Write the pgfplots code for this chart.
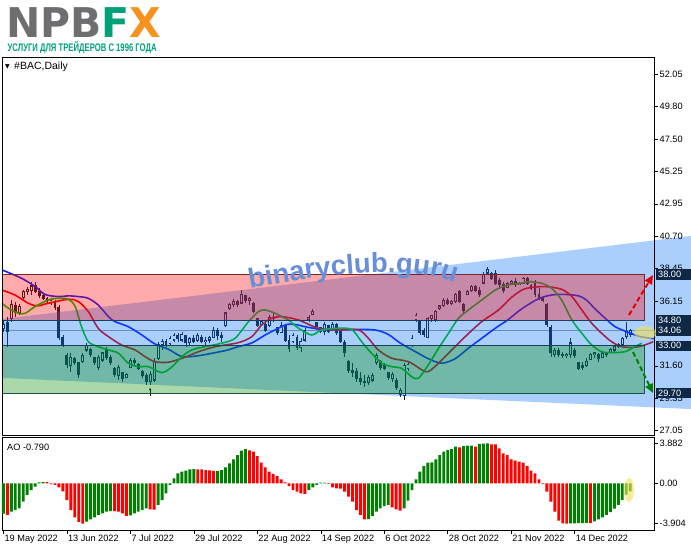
\documentclass[border=0pt]{standalone}
\usepackage{pgfplots}
\pgfplotsset{compat=1.18}
\usepackage{pgfplotstable}
\usepackage{graphicx}
\usepackage{fontspec}
\setmainfont{Liberation Sans}
\newfontfamily\dejavu{DejaVu Sans}
\usetikzlibrary{arrows.meta,decorations.text}

\definecolor{cndl}{RGB}{22,30,44}
\definecolor{jaw}{RGB}{20,30,255}
\definecolor{teeth}{RGB}{235,0,0}
\definecolor{lips}{RGB}{0,200,0}
\definecolor{zred}{RGB}{255,0,0}
\definecolor{zgreen}{RGB}{0,138,0}
\definecolor{ztri}{RGB}{0,111,246}
\definecolor{lnred}{RGB}{125,35,40}
\definecolor{lnblue}{RGB}{28,60,92}
\definecolor{lngreen}{RGB}{28,85,65}
\definecolor{navy}{RGB}{14,40,70}
\definecolor{aogreen}{RGB}{0,128,0}
\definecolor{aored}{RGB}{255,0,0}
\definecolor{npgray}{RGB}{110,110,112}
\definecolor{npgreen}{RGB}{0,160,120}
\definecolor{nporange}{RGB}{246,146,30}
\definecolor{wm}{RGB}{104,142,216}
\definecolor{hilite}{RGB}{240,225,90}

\newcommand\tickfont{\fontsize{9.2}{10}\selectfont}

% daily candles, bar index from 19 May 2022
\pgfplotstableread{
i o h l c
0 34.2 34.8 34.0 34.5
2 34.9 36.2 34.7 35.9
4 35.3 35.9 35.16 35.75
5 36.4 36.9 36.3 36.8
6 36.8 37.15 36.56 36.95
7 36.9 37.5 36.56 37.2
12 36.05 36.33 35.86 36.2
17 31.6 32.48 31.19 32.2
20 31.9 32.48 31.78 32.3
21 32.7 33.18 32.59 33.0
24 31.5 32.36 31.31 32.2
25 32.0 32.59 31.89 32.5
29 30.9 31.66 30.61 31.5
31 30.8 31.07 30.72 31.0
32 31.5 32.13 31.42 32.0
37 30.5 31.2 30.25 31.0
38 30.6 32.13 30.49 31.9
39 32.1 33.3 32.0 33.1
40 33.1 33.5 32.7 33.3
42 33.15 33.7 33.06 33.5
43 33.4 33.88 33.29 33.7
45 33.4 34.0 33.29 33.8
47 33.2 33.64 33.06 33.5
49 33.35 33.88 33.29 33.7
51 33.3 33.64 33.06 33.4
52 33.4 33.69 33.18 33.6
53 33.6 34.3 33.53 34.1
56 34.4 35.4 34.34 35.3
57 35.6 35.98 35.5 35.9
58 35.9 36.3 35.75 36.1
60 36.0 36.91 35.98 36.6
62 36.2 36.45 35.86 36.3
65 34.5 34.81 34.46 34.7
67 34.4 35.16 34.34 35.0
70 33.9 34.7 33.88 34.4
73 33.3 33.88 33.18 33.7
75 32.9 33.53 32.59 33.3
76 33.4 34.23 33.29 34.1
77 34.8 35.16 34.7 35.0
78 35.2 35.6 35.16 35.4
81 34.0 34.7 33.76 34.5
83 34.2 34.7 34.11 34.5
92 30.4 30.96 30.26 30.8
93 30.6 31.07 30.49 30.95
94 31.8 32.48 31.66 32.3
98 30.7 31.19 30.49 31.0
100 29.6 30.02 29.44 29.9
101 29.5 31.78 29.21 31.6
102 31.4 31.9 31.2 31.7
103 33.0 33.76 32.94 33.5
104 34.8 35.28 34.7 35.1
107 33.6 35.04 33.53 34.9
108 34.9 35.16 34.7 35.1
109 34.8 35.51 34.7 35.4
110 35.6 35.86 35.51 35.8
111 35.8 36.33 35.75 36.2
113 35.95 36.21 35.86 36.1
114 36.1 36.68 35.98 36.6
117 36.6 36.91 36.56 36.8
118 36.85 37.27 36.8 37.15
121 37.4 38.2 37.38 38.0
122 38.1 38.55 38.08 38.35
127 37.1 37.5 37.03 37.35
128 37.35 37.61 37.27 37.5
130 37.3 37.5 37.27 37.4
131 37.4 37.85 37.38 37.7
139 32.4 32.83 32.24 32.7
142 32.3 32.48 32.13 32.4
143 32.4 33.53 32.13 33.2
147 31.6 32.13 31.54 31.9
148 32.05 32.48 32.01 32.4
149 32.4 32.59 32.13 32.5
151 32.2 32.59 32.13 32.5
153 32.5 32.83 32.48 32.75
154 32.7 33.06 32.59 32.95
155 32.95 33.18 32.83 33.1
156 33.1 33.64 33.06 33.5
157 33.65 34.69 33.5 33.95
158 33.8 34.15 33.6 34.06
}\bull

\pgfplotstableread{
i o h l c
1 34.6 35.0 32.95 34.0
3 35.8 36.1 35.0 35.3
8 37.2 37.5 36.68 36.8
9 36.8 37.03 36.35 36.5
10 36.5 36.68 36.21 36.3
11 36.3 36.45 35.98 36.1
13 36.1 36.2 35.5 35.7
14 35.7 35.86 33.41 33.55
15 33.6 33.76 32.94 33.1
16 32.3 32.48 31.42 31.7
18 32.1 32.24 31.66 31.8
19 31.8 31.89 30.72 31.0
22 32.75 32.83 32.24 32.4
23 32.2 32.24 31.66 31.8
26 32.7 32.94 32.01 32.2
27 32.2 32.36 31.66 31.8
28 31.4 31.54 30.84 31.0
30 31.1 31.19 30.49 30.7
33 32.0 32.13 31.66 31.8
34 31.7 31.78 31.31 31.4
35 31.2 31.31 30.72 30.9
36 30.95 31.07 30.26 30.5
41 33.3 33.45 32.94 33.1
44 33.7 33.9 33.29 33.5
46 33.7 33.76 32.94 33.2
48 33.5 33.76 33.18 33.3
50 33.6 33.76 33.18 33.3
54 34.1 34.23 33.41 33.7
55 33.7 34.0 33.29 33.6
59 36.1 36.21 35.75 35.9
61 36.5 36.56 35.98 36.2
63 36.0 36.1 35.28 35.4
64 34.9 34.93 34.34 34.45
66 34.5 34.58 34.0 34.1
68 35.0 35.28 34.7 34.9
69 34.3 34.34 33.76 33.9
71 34.4 34.46 33.29 33.4
72 33.4 33.76 32.59 32.8
74 33.6 33.76 32.71 32.9
79 34.6 34.7 34.11 34.3
80 34.3 34.34 33.88 34.0
82 34.4 34.46 33.88 34.0
84 34.5 34.58 33.76 33.9
85 34.0 34.11 33.18 33.3
86 33.2 33.41 32.24 32.5
87 31.9 32.01 31.07 31.3
88 31.3 31.78 30.84 31.1
89 31.2 31.42 30.49 30.7
90 30.7 31.19 30.26 30.5
91 30.5 30.96 30.14 30.4
95 31.9 32.01 31.31 31.5
96 31.7 31.78 31.31 31.4
97 31.1 31.19 30.61 30.8
99 30.6 30.72 29.91 30.1
105 34.7 34.81 33.76 33.9
106 34.1 34.23 33.64 33.8
112 36.2 36.33 35.86 35.95
115 36.8 36.91 35.98 36.1
116 35.9 35.98 35.28 35.5
119 37.15 37.27 36.8 36.9
120 36.9 37.15 36.45 36.6
123 38.1 38.2 37.61 37.75
124 38.1 38.32 37.27 37.4
125 37.6 37.73 37.15 37.3
126 37.3 37.5 36.68 36.9
129 37.5 37.73 37.15 37.3
132 37.7 37.85 37.26 37.4
133 37.26 37.3 36.9 37.0
134 37.4 37.61 36.45 36.6
135 36.6 37.03 36.21 36.3
136 36.3 36.45 36.1 36.2
137 35.9 35.98 34.34 34.5
138 34.3 34.46 32.24 32.5
140 32.7 32.83 32.24 32.4
141 32.4 32.59 32.13 32.3
144 32.7 32.83 32.13 32.3
145 31.8 31.89 31.31 31.4
146 31.6 31.89 31.31 31.5
150 32.4 32.48 31.89 32.1
152 32.5 32.59 32.24 32.4
}\bear

% Awesome Oscillator, rising bars and falling bars
\pgfplotstableread{
i v
0 -2.95
2 -2.75
3 -2.59
4 -2.43
5 -1.78
6 -1.13
7 -0.65
8 -0.32
9 0.10
10 0.12
21 -3.72
22 -3.50
23 -3.30
24 -3.07
25 -2.91
26 -2.75
27 -2.69
32 -3.10
33 -2.91
34 -2.75
35 -2.59
36 -2.43
39 -2.10
40 -1.62
41 -0.97
42 -0.16
43 0.49
44 0.97
45 1.13
46 1.23
47 1.36
48 1.38
54 1.22
55 1.29
56 1.55
57 1.94
58 2.33
59 2.75
60 3.17
61 3.33
77 -0.65
78 -0.39
79 -0.16
80 0.06
81 0.08
92 -3.48
93 -3.17
94 -2.75
95 -2.43
96 -2.20
97 -2.10
101 -2.43
102 -1.68
103 -0.65
104 0.39
105 1.13
106 1.68
107 2.00
108 2.04
109 2.33
110 2.75
111 3.07
112 3.24
113 3.33
114 3.56
116 3.62
117 3.66
118 3.67
120 3.82
121 3.86
122 3.882
143 -3.89
144 -3.885
145 -3.87
146 -3.86
147 -3.85
149 -3.70
150 -3.50
151 -3.30
152 -3.05
153 -2.80
154 -2.45
155 -2.10
156 -1.60
157 -1.10
158 -0.79
}\aoup

\pgfplotstableread{
i v
1 -3.05
11 0.11
12 -0.08
13 -0.15
14 -0.39
15 -0.78
16 -1.62
17 -2.59
18 -3.30
19 -3.75
20 -3.90
28 -2.70
29 -2.75
30 -2.91
31 -3.17
37 -2.52
38 -2.55
49 1.36
50 1.35
51 1.29
52 1.27
53 1.20
62 3.20
63 3.07
64 2.65
65 2.00
66 1.55
67 1.13
68 0.91
69 0.71
70 0.39
71 0.10
72 -0.26
73 -0.65
74 -0.81
75 -0.97
76 -1.03
82 -0.06
83 -0.39
84 -0.49
85 -0.52
86 -0.81
87 -1.29
88 -1.78
89 -2.59
90 -3.07
91 -3.50
98 -2.33
99 -2.52
100 -2.65
115 3.50
119 3.56
123 3.79
124 3.78
125 3.40
126 2.91
127 2.75
128 2.33
129 2.20
130 2.10
131 2.00
132 1.68
133 1.23
134 0.97
135 0.39
136 -0.06
137 -0.81
138 -1.78
139 -2.75
140 -3.62
141 -3.88
142 -3.904
148 -3.87
}\aodown

\pgfplotsset{
  wick/.style={draw=none, mark=none, forget plot,
    error bars/.cd, y dir=plus, y explicit, error mark=none,
    error bar style={draw=cndl, line width=0.7pt}},
  body/.style={draw=none, mark=none, forget plot,
    error bars/.cd, y dir=plus, y explicit, error mark=none,
    error bar style={draw=#1, line width=2.9pt}},
}

\begin{document}
\begin{tikzpicture}[x=1pt,y=1pt]
\fill[white] (0,0) rectangle (691,549);
\useasboundingbox (0,0) rectangle (691,549);

% logo
\node[anchor=base west, inner sep=0pt] at (6,511)
  {\smash{\dejavu\bfseries\fontsize{41}{41}\selectfont
   \textcolor{npgray}{NPB}\textcolor{npgreen}{F}\textcolor{nporange}{X}}};
\node[anchor=base west, inner sep=0pt] at (7.5,497.5)
  {\scalebox{0.70}[1]{\fontsize{11}{12}\selectfont\bfseries\color{npgreen}УСЛУГИ ДЛЯ ТРЕЙДЕРОВ С 1996 ГОДА}};

\begin{axis}[
  at={(2pt,114pt)}, anchor=south west, scale only axis,
  width=652pt, height=378pt,
  xmin=-0.35, xmax=164, ymin=26.75, ymax=53.24,
  clip=false, axis on top,
  xtick=\empty,
  ytick={52.05,49.80,47.50,45.25,42.95,40.70,38.45,36.15,33.90,31.60,29.35,27.05},
  yticklabels={52.05,49.80,47.50,45.25,42.95,40.70,38.45,36.15,,31.60,29.35,27.05},
  ytick pos=right, yticklabel pos=right,
  tick align=outside, major tick length=4pt,
  tick style={black, line width=0.5pt},
  axis line style={black, line width=0.8pt},
  yticklabel style={font=\tickfont, inner sep=1.5pt, anchor=west},
]
% bid line
\addplot[black!38, line width=0.5pt] coordinates {(-0.35,34.06) (164,34.06)};

% candles
\addplot[wick] table[x=i, y=l, y error expr={\thisrow{h}-\thisrow{l}}] {\bear};
\addplot[wick] table[x=i, y=l, y error expr={\thisrow{h}-\thisrow{l}}] {\bull};
\addplot[body=cndl] table[x=i, y expr={\thisrow{c}-0.035}, y error expr={\thisrow{o}-\thisrow{c}+0.07}] {\bear};
\addplot[body=cndl] table[x=i, y expr={\thisrow{o}-0.035}, y error expr={\thisrow{c}-\thisrow{o}+0.07}] {\bull};
\addplot[draw=none, mark=none, forget plot,
  error bars/.cd, y dir=plus, y explicit, error mark=none,
  error bar style={draw=white, line width=1.2pt}]
  table[x=i, y expr={\thisrow{o}+0.045}, y error expr={max(\thisrow{c}-\thisrow{o}-0.09,0)}] {\bull};

% alligator
\addplot[jaw, line width=1.6pt, smooth] coordinates {
(-0.35,38.32) (4.6,37.73) (8,37.15) (10.5,36.6) (13.9,36.45) (16.4,36.5) (18.9,36.45)
(21.4,36.33) (23.9,35.86) (26.5,35.04) (28.1,34.70) (31.5,34.34) (34.9,33.76) (38.2,33.13)
(41.6,32.76) (45,32.25) (49,32.3) (53,32.5) (56.5,32.7) (59.2,32.94) (62.6,33.2) (66,33.76)
(69.3,34.23) (71.4,34.5) (73.5,34.5) (76,34.34) (79.4,34.18) (82.8,34.11) (87.8,34.15)
(93.7,34.11) (97,33.8) (100,33.2) (103.8,32.6) (107.1,32.1) (110.5,31.78) (113.9,32.1)
(117.2,32.83) (120.6,33.53) (124,34.23) (127.3,34.85) (130.7,35.6) (134.9,36.3) (138.2,36.56)
(141.6,36.6) (145,36.5) (147,36.2) (149.1,35.6) (151.7,34.93) (154.2,34.34) (157.5,33.95)
(160.5,33.64) (164,33.5)};
\addplot[teeth, line width=1.6pt, smooth] coordinates {
(-0.35,36.91) (2.9,36.56) (6.3,35.98) (8.5,35.8) (11.3,35.98) (16.4,36.26) (18.9,36.1)
(21.4,35.4) (23.9,34.23) (26.5,33.64) (29.8,33.06) (33.2,32.71) (35.7,32.24) (38.2,31.89)
(41.6,31.85) (45.8,32.2) (49.2,32.59) (53.4,32.94) (59.2,33.22) (62.6,33.64) (65.1,34.46)
(67.6,34.93) (70.2,35.04) (74.4,34.81) (79.4,34.23) (84.4,34.11) (89.5,34.11) (92,33.53)
(94.5,32.71) (97.9,32.13) (102.1,31.89) (105.5,31.31) (107.1,31.19) (109.7,31.78) (113,32.71)
(116.4,33.64) (120.6,34.7) (124.8,35.51) (128.1,36.4) (131.5,37.0) (136.5,37.15) (140.7,36.96)
(143.3,36.45) (145.8,35.51) (148.3,34.58) (150.8,33.88) (153.3,33.29) (155.9,32.94)
(159.2,32.9) (161.7,33.06) (163.8,33.29)};
\addplot[lips, line width=1.6pt, smooth] coordinates {
(-0.35,35.98) (1.3,35.63) (3.8,35.28) (5.5,35.28) (8,35.75) (11.3,36.21) (13.9,36.33)
(16.4,36.26) (18.1,35.75) (19.7,34.34) (21.4,33.29) (23.9,32.94) (26.5,32.71) (29,32.48)
(31.5,31.78) (34,31.54) (36.6,31.54) (39.9,31.12) (42.4,31.5) (45,32.24) (47.5,32.71)
(50.8,32.94) (55,33.18) (58.4,33.53) (61.8,34.7) (64.3,35.4) (66,35.51) (68.5,35.28)
(71.8,34.81) (74.4,34.23) (77.7,33.76) (80.2,34.11) (84.4,34.23) (87.8,34.14) (90.3,33.29)
(92.8,32.48) (95.4,31.78) (97.9,31.54) (100.4,31.42) (102.9,30.84) (104.6,30.72) (107.1,31.66)
(109.7,32.83) (112.2,33.88) (114.7,34.93) (117.2,35.51) (120.6,36.21) (124,36.91) (127.3,37.27)
(130.7,37.4) (132.3,37.5) (135.7,37.38) (138.2,37.03) (140.7,36.21) (143.3,34.81) (145.8,33.88)
(148.3,33.06) (150.8,32.59) (153.3,32.52) (156.7,32.59) (159.2,32.94) (160.9,33.18)};

% fractal
\addplot[black, line width=0.5pt, -{Stealth[length=2.5pt,width=2.5pt]}] coordinates {(37,29.5) (37,30.05)};

% channel and zones
\addplot[draw=none, fill=ztri, fill opacity=0.333] coordinates {(-0.35,34.88) (173.3,40.70) (173.3,28.57) (-0.35,30.75)} -- cycle;
\addplot[draw=none, fill=zred, fill opacity=0.333] coordinates {(-0.35,34.80) (161.7,34.80) (161.7,38.00) (-0.35,38.00)} -- cycle;
\addplot[draw=none, fill=zgreen, fill opacity=0.333] coordinates {(-0.35,29.70) (161.7,29.70) (161.7,33.00) (-0.35,33.00)} -- cycle;
\addplot[lnred, line width=0.8pt] coordinates {(-0.35,38.00) (161.7,38.00) (161.7,34.80)};
\addplot[lngreen, line width=0.8pt] coordinates {(-0.35,29.70) (161.7,29.70) (161.7,33.00)};
\addplot[lnblue, line width=0.8pt] coordinates {(-0.35,34.80) (161.7,34.80)};
\addplot[lnblue, line width=0.8pt] coordinates {(-0.35,33.00) (161.7,33.00)};

\coordinate (b38) at (axis cs:164,38.00);
\coordinate (b348) at (axis cs:164,34.80);
\coordinate (b3406) at (axis cs:164,34.06);
\coordinate (b33) at (axis cs:164,33.00);
\coordinate (b297) at (axis cs:164,29.70);
\end{axis}

\begin{axis}[
  at={(2pt,19pt)}, anchor=south west, scale only axis,
  width=652pt, height=93pt,
  xmin=-0.35, xmax=164, ymin=-4.53, ymax=4.5,
  xtick={0,16,...,144},
  xticklabels={19 May 2022,13 Jun 2022,7 Jul 2022,29 Jul 2022,22 Aug 2022,14 Sep 2022,6 Oct 2022,28 Oct 2022,21 Nov 2022,14 Dec 2022},
  xtick pos=left,
  ytick={3.882,0,-3.904}, yticklabels={3.882,0.00,-3.904},
  ytick pos=right, yticklabel pos=right,
  tick align=outside, major tick length=4pt,
  tick style={black, line width=0.5pt},
  axis line style={black, line width=0.8pt},
  yticklabel style={font=\tickfont, inner sep=1.5pt, anchor=west},
  xticklabel style={font=\tickfont, inner sep=1pt, anchor=north west},
]
\addplot[ybar, bar width=2.9pt, bar shift=0pt, fill=aogreen, draw=none] table[x=i, y=v] {\aoup};
\addplot[ybar, bar width=2.9pt, bar shift=0pt, fill=aored, draw=none] table[x=i, y=v] {\aodown};
\end{axis}

% panel headers
\node[anchor=west, inner sep=0pt] at (5,482) {\dejavu\fontsize{6}{7}\selectfont ▼};
\node[anchor=west, inner sep=0pt] at (14,482) {\fontsize{10.5}{12}\selectfont \#BAC,Daily};
\node[anchor=west, inner sep=0pt] at (7,102) {\tickfont AO -0.790};

% price labels
\foreach \c/\t in {b38/38.00, b348/34.80, b3406/34.06, b33/33.00, b297/29.70}
  \node[anchor=west, fill=navy, text=white, inner xsep=2.5pt, inner ysep=0pt,
        minimum height=10.5pt, text width=30pt, align=left, font=\tickfont]
        at ([xshift=1.5pt]\c) {\t};

% highlights and arrows
\fill[hilite, opacity=0.6] (645,216) ellipse (11 and 7);
\fill[hilite, opacity=0.6] (629,59) ellipse (5 and 12);
\draw[red!90!black, line width=2pt, dash pattern=on 5pt off 3pt,
      -{Triangle[length=9pt,width=8pt]}] (629,234) -- (653,274);
\draw[green!50!black, line width=2pt, dash pattern=on 5pt off 3pt,
      -{Triangle[length=9pt,width=8pt]}] (633,197) -- (653,156);

% watermark
\path[decorate, decoration={text along path, text align=center,
      text={|\fontsize{27.5}{28}\selectfont\bfseries\color{wm}|binaryclub.guru}}]
  (243,259) .. controls (330,277) and (420,285) .. (462,263);
\end{tikzpicture}
\end{document}
